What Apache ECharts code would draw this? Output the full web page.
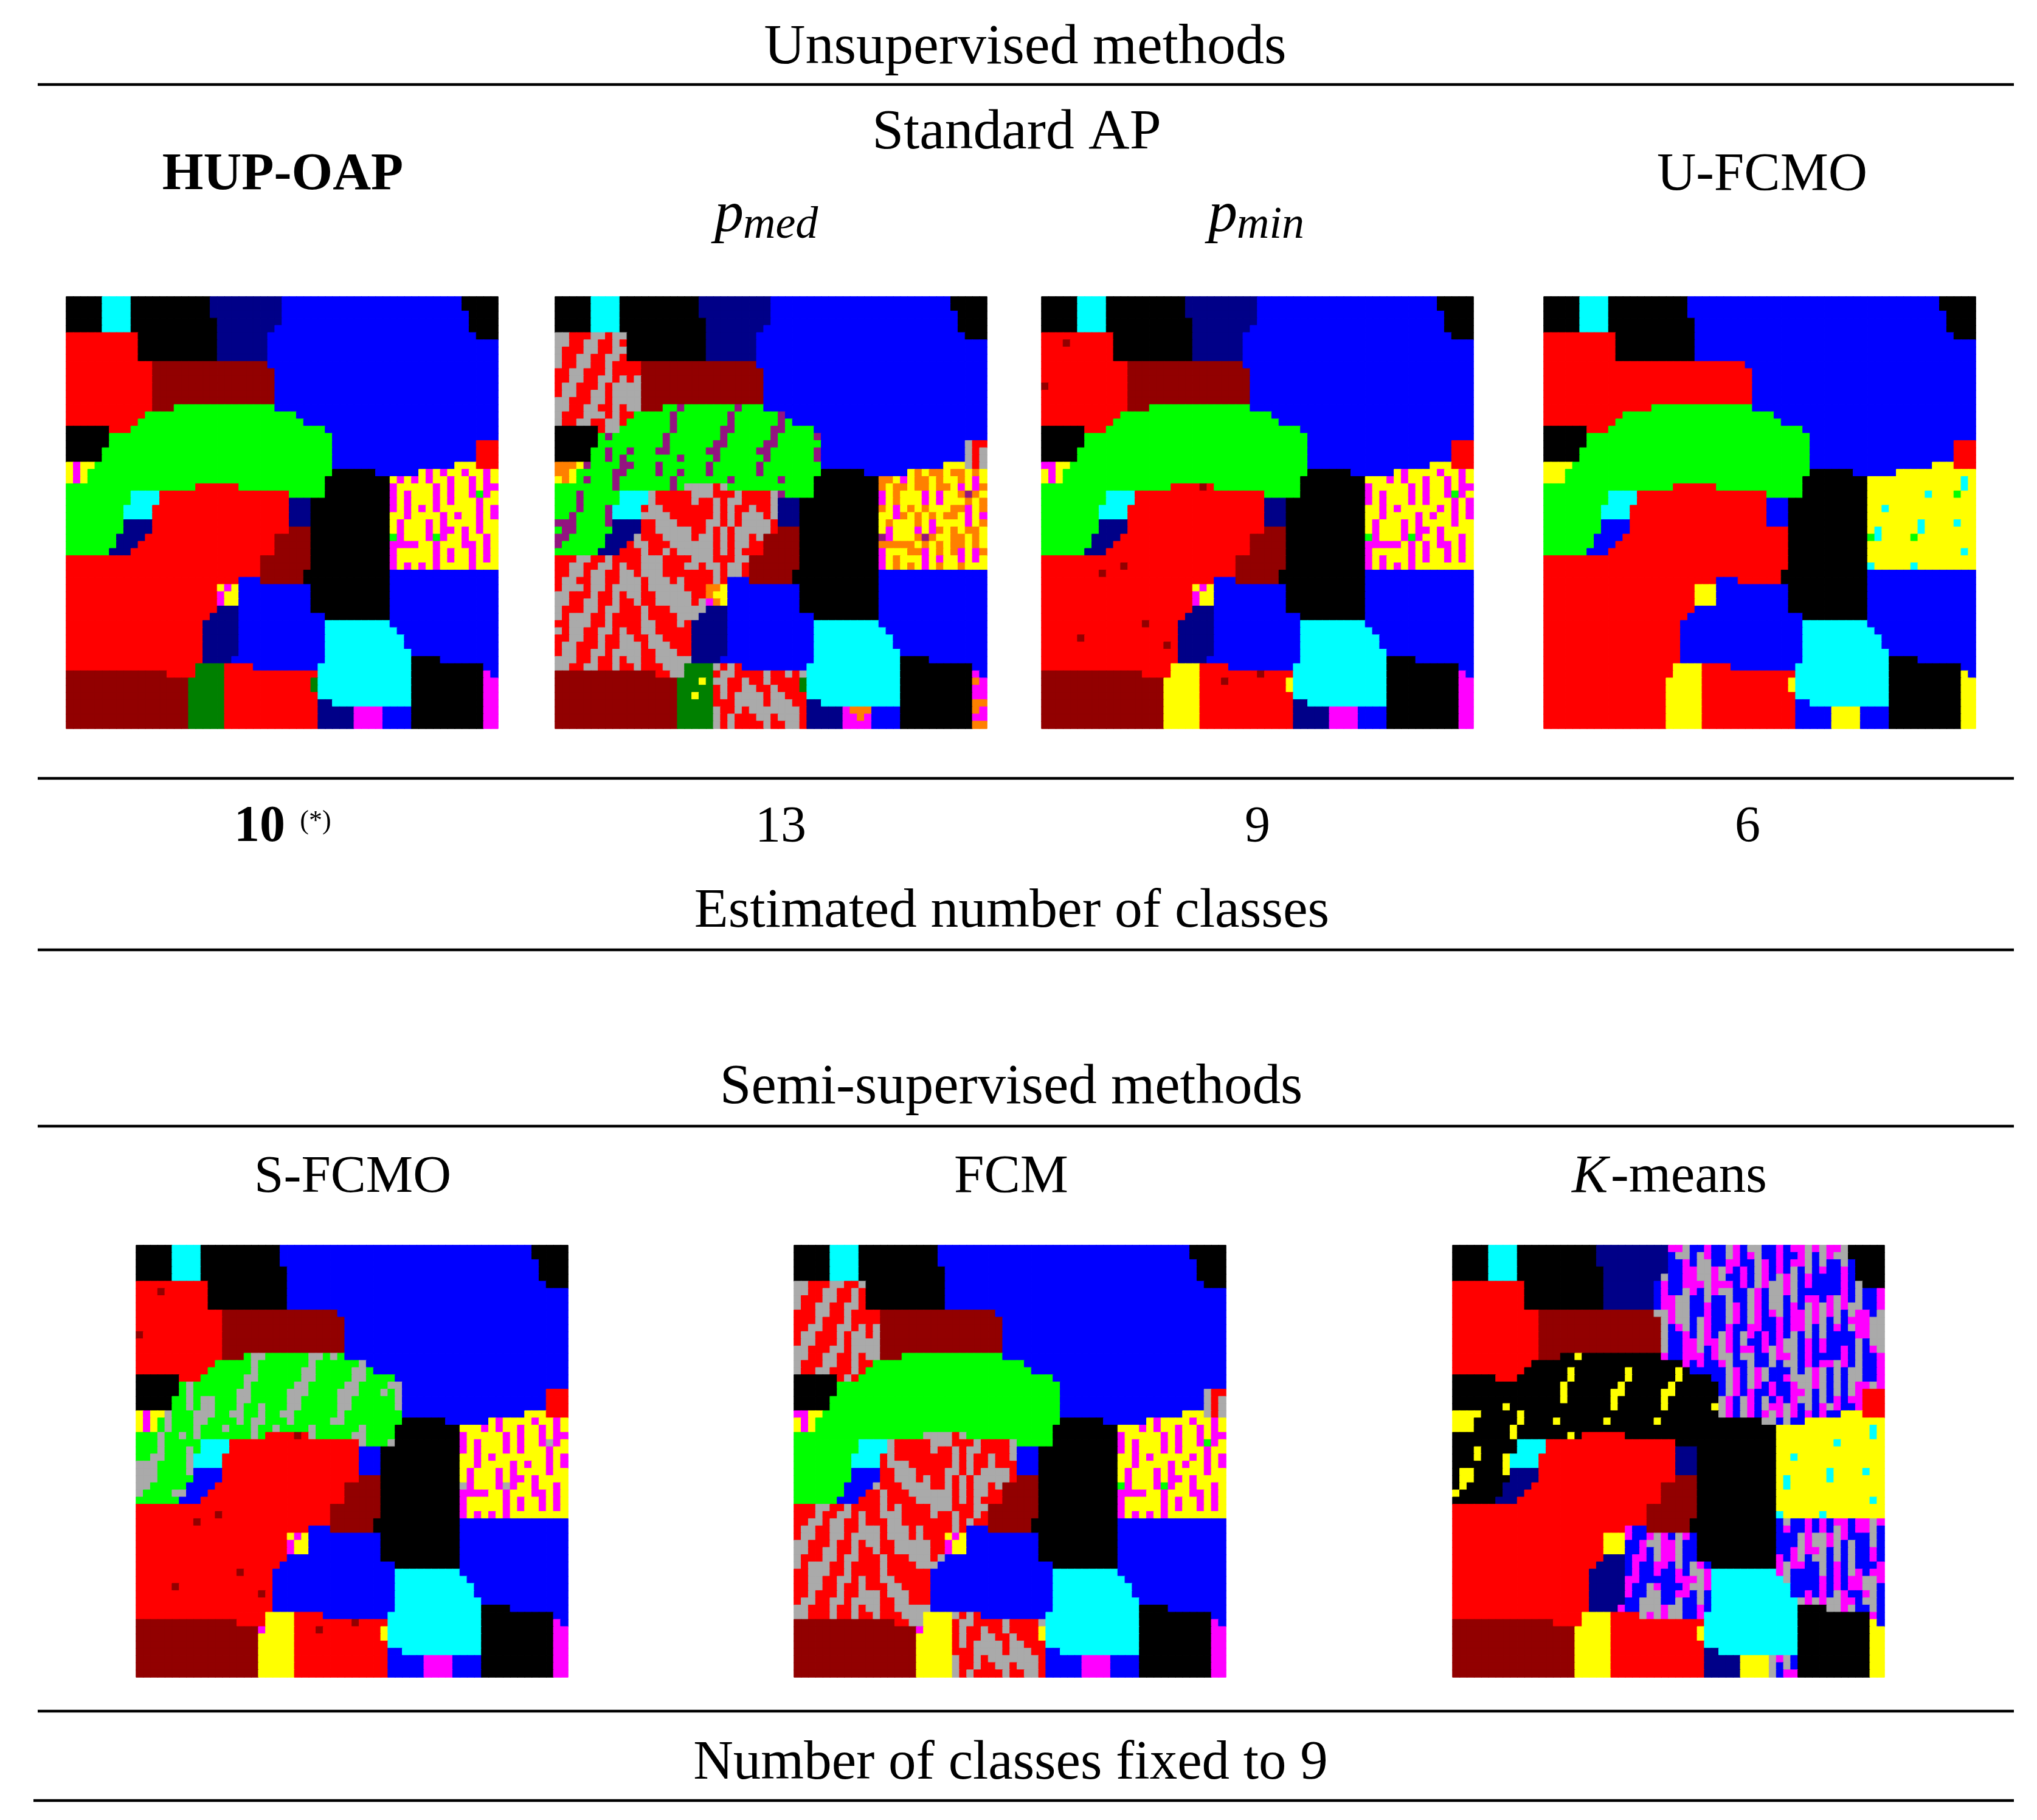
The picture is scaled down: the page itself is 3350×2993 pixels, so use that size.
<!DOCTYPE html>
<html>
<head>
	<meta charset="utf-8">
	<title>Clustering maps</title>
	<script src="https://cdn.jsdelivr.net/npm/echarts@6/dist/echarts.min.js"></script>
	<style>html,body{margin:0;padding:0;background:#fff;}</style>
</head>
<body>
<div id="main" style="width:3350px;height:2993px;"></div>
<script type="text/javascript">
	// every row is a list of runs: class letter + column where the run ends
	var class_letters = ['k','c','n','b','r','d','g','y','m','a','o','p','e'];
	var class_colors = ['#000000','#00ffff','#000088','#0000ff','#ff0000','#920000','#00ff00','#ffff00','#ff00ff','#aaaaaa','#ff8000','#931580','#008000'];

	var hup_oap_rows = [
		'k5c9k20n30b55k60','k5c9k20n30b55k60','k5c9k20n30b56k60','k5c9k21n30b56k60','k5c9k21n29b56k60',
		'r10k21n28b57k60','r10k21n28b60','r10k21n28b60','r10k21n28b60',
		'r12d28b60','r12d29b60','r12d29b60','r12d29b60','r12d29b60','r12d29b60',
		'r12d15g29b60','r11g32b60','r10g33b60','k6r9g36b60','k6g37b60','k6g37b57r60','k5g37b57r60','k5g37b57r60',
		'y1m2y4g37b54y57r60',
		'y1m2y3g37k43b49y50m51y52m53y55m56y58m59y60',
		'y1m2y3g36k45y46m47y48m49y50m51y53m54y56m57y58m59y60',
		'g18r24g36k45m46y51m52y53m54y56m57y58m60',
		'g9c13r31g36k45m46y47m48y51m52y53m54y56m57g58m59y60',
		'g9c13r31n34k45m46y47m48y51m52y53m54y57m58y60',
		'g8c12r31n34k45m46y47m48y49m50y51m52y57m58y59m60',
		'g8c12r31n34k45y47m48y52m53y54m55y57m58y59m60',
		'g8n12r31n34k45y46m47y50m51y52m53y57m58y60',
		'g8n12r31d34k45y46m47y50m51y52m54y55m56y57m58y60',
		'g7n11r29d34k45g46m47y50m51g52m53y55m56y58m59y60',
		'g7n10r29d34k45m49y51m52y55m57y58m59y60',
		'g6n9r29d34k45m46y51m52y53m54y56m57y58m59y60',
		'r27d34k45m46y51m52y53m54y56m57y58m59y60',
		'r27d34k45m46y47m48y49m50y51m52y56m57y60',
		'r27d33k45b60','r24b27d33k45b60','r21y22m23y24b34k45b60','r21m22y24b34k45b60','r21m22y24b34k45b60',
		'r21n24b34k45b60','r20n24b36k45b60','r19n24b36c45b60','r19n24b36c46b60','r19n24b36c47b60','r19n24b36c47b60','r19n24b36c48b60',
		'r19n23b36c48k52b60','r18e22r26b35c48k58b60','d14r18e22r35c48k58m59b60','d17e22r34e35c48k58m60','d17e22r34e35c48k58m60',
		'd17e22r35c48k58m60','d17e22r35n37c48k58m60','d17e22r35n40m44b48k58m60','d17e22r35n40m44b48k58m60','d17e22r35n40m44b48k58m60'
	];

	var ap_med_rows = [
		'k5c9k20n30b55k60','k5c9k20n30b55k60','k5c9k20n30b56k60','k5c9k21n30b56k60','k5c9k21n29b56k60',
		'a2r5a7r8a10k21n28b57k60',
		'a2r4a6r8a9r10k21n28b60',
		'a1r4a6r8a10k21n28b60',
		'a1r3a5r7a9r10k21n28b60',
		'a1r3a5r7a8r12d28b60',
		'r2a4r7a8r12d29b60',
		'r2a4r6a8r9a10r11a12d29b60',
		'r1a3r6a7r8a12d29b60',
		'r1a3r5a7r8a12d29b60',
		'a2r5a7r8a12d29b60',
		'a2r4a6r8a9r10a12d15g17p18g25p26g29b60',
		'a1r4a7r8a9r11g16p17g24p25g31p32b60',
		'a1r3a5r7a9r10g16p17g24p25g31p32g33b60',
		'k6r7a9g16p17g23p25g30p32g36b60',
		'k6g7p8g15p16g23p24g30p31g36p37b60',
		'k6g15p16g22p24g29p31g37b57a58r60',
		'k5g7p8g10p11g14p16g21p23g28p30g36p37b57a58r59a60',
		'k5g7p8g9p10g17p18g22p23g29p30g36p37b57a58r59a60',
		'o3y4p5g9p11g14p15g21p22g28p29g37b54y57a58r59a60',
		'o2y3g8p10g14p15g17p18g21p22g28p29g37k43b49y50o51y52o54y55o57y58o59y60',
		'y1o2y3g4p5g8p9g16p17g24p25g31p32g36k45o47y48m49y50o52y53o54y56o57y58m59y60',
		'g8p9g16p17g18a22r23a24g36k45o46y47o49y50o52y53o55y56m57y58m59o60',
		'g3p4g9c13a14r19a22r25a26r30a31p32g36k45m46y47o48y51m52y53m54y56o57p58o59y60',
		'g3p4g9c13a14r19a20r22a23r24a26r30a31n34k45m46y47o48y51m52y53m54y57o58y59o60',
		'g3p4g7p8c12r13a15r22a23r24a25r27a28r30a31n34k45o46y47m48y49o50y51o52y55o57m58y59o60',
		'g2p3g7p8c12a16r22a23r24a25r26a29r30a31n34k45y47m48o49y50o51y52o53y54o56y57m58y59m60',
		'p3g7p8n12r14a17r21a23r24a25r26a30r31n34k45y46o47y50o51y52m53y57m58y59o60',
		'g1p3g8n12r14a19r21a22r23a24r25a30r31d34k45y46m47y50m51y52m53o54y55o56y57o59y60',
		'p2g7n11a12r15a19r20a22r23a24r25a27r28a29d34k45p46m47y50o51p52o53y55o57y58o59y60',
		'p1g7n10r11a13r16a22r23a24r25a27r29d34k45o50y51o52y53o54y55o57y58o59y60',
		'g6n9r12a13r15a16r17a22r23a24r25a26r29d34k45m46y49o51m52y53o54y55o56m57y58m59o60',
		'r3a5r7a8r12a15r19a22r25a27d34k45m46y47o48y51m52y53m54y56m57y58m59y60',
		'r2a4r6a8r9a10r12a15r18a20r21a23r24a26r27d34k45m46y47o48y49o50y51m52y53o54y56o57y60',
		'r2a4r5a7r9a11r12a15r22a23r24a26r27d33k45b60',
		'r1a3r5a7r9a12r13a16r17a18r22a23r24b27d33k45b60',
		'r1a4r5a7r8a12r13a18r21o23y24b34k45b60',
		'a2r5a6r8a9r10a12r14a19r21o22y24b34k45b60',
		'a2r4a6r8a9r11a12r14a19r20a21m22o23y24b34k45b60',
		'a1r4a6r7a9r12a13r16a21n24b34k45b60',
		'a1r2a5r7a8r12a13r17a20n24b36k45b60',
		'r2a5r7a8r12a14r17a18r19n24b36c45b60',
		'a1r2a4r6a8r9a10r12a14r19n24b36c46b60',
		'r2a4r6a7r9a11r13a15r19n24b36c47b60',
		'r1a3r6a7r9a12r13a16r19n24b36c47b60',
		'r1a3r5a7r8a12r14a17r19n24b36c48b60',
		'a3r5a6r8a9r10a12r14a19n23b36c48k52b60',
		'a2r4a6r8a9r11a12r15a18e22a23r24a25r26b35c48k58b60',
		'd14r16a18e22r23a25r29a30r32a33r34a35c48k58m59b60',
		'd17e20y21e22a24r26a27r29a30r34e35c48k58o59m60',
		'd17e22r23a24r26a28r30a31r34e35c48k58m60',
		'd17e19y20e22r23a24r25a29r30a32r35c48k58m60',
		'd17e22r25a29r30a33r35n37c48k58o60',
		'd17e22a23r25a26r27a34r35n40m41o44b48k58o59m60',
		'd17e22a23r24a25r28a30r31a34r35n40m42o43m44b48k58m60',
		'd17e22a23r24a25r29a30r32a34r35n40m44b48k58o60'
	];

	var ap_min_rows = [
		'k5c9k20n30b55k60','k5c9k20n30b55k60','k5c9k20n30b56k60','k5c9k21n30b56k60','k5c9k21n29b56k60',
		'r10k21n28b57k60','r3d4r10k21n28b60','r10k21n28b60','r10k21n28b60',
		'r12d28b60','r12d29b60','r12d29b60','d1r12d29b60','r12d29b60','r12d29b60',
		'r12d15g29b60','r11g32b60','r10g33b60','k6r9g36b60','k6g37b60','k6g37b57r60','k5g37b57r60','k5g37b57r60',
		'm2y4g37b54y57r60',
		'y1m2y3g37k43b49y50m51y55m56y58m59y60',
		'y1m2y3g36k45y48m49y50m51y53m54y56m57y58m59y60',
		'g18r22d23r24g36k45m46y51m52y53m54y56m57y58m60',
		'g9c13r31g36k45m46y47m48y51m52y53m54y56m57g58m59y60',
		'g9c13r31n34k45m46y47m48y51m52y53m54y57m58y59m60',
		'g8c12r31n34k45y47m48y49m50y55m56y57m58y59m60',
		'g8c12r31n34k45y47m48y52m53y54m55y57m58y59m60',
		'g8n12r31n34k45y46m47y50m51y52m53y57m58y60',
		'g8n12r31d34k45y46m47y50m51y52m54y55m56y60',
		'g7n11r29d34k45g46m47y50m51g52m53y55m56y58m59y60',
		'g7n10r29d34k45m50y51m52y53m54y55m57y58m59y60',
		'g6n9r29d34k45m46y51m52y53m54y56m57y58m59y60',
		'r27d34k45m46y47m48y51m52y53m54y56m57y58m59y60',
		'r11d12r27d34k45m46y47m48y49m50y51m52y60',
		'r8d9r27d33k45b60','r24b27d33k45b60','r21y22m23y24b34k45b60','r21m22y24b34k45b60','r21m22y24b34k45b60',
		'r21n24b34k45b60','r20n24b36k45b60','r14d15r19n24b36c45b60','r19n24b36c46b60','r5d6r19n24b36c47b60','r17d18r19n24b36c47b60','r19n24b36c48b60',
		'r19n23b36c48k52b60','r18y22r26b35c48k58b60','d14r18y22r30d31r35c48k58m59b60','d17y22r25d26r34y35c48k58m60','d17y22r34y35c48k58m60',
		'd17y22r35c48k58m60','d17y22r35n37c48k58m60','d17y22r35n40m44b48k58m60','d17y22r35n40m44b48k58m60','d17y22r35n40m44b48k58m60'
	];

	var u_fcmo_rows = [
		'k5c9k20b55k60','k5c9k20b55k60','k5c9k20b56k60','k5c9k21b56k60','k5c9k21b56k60',
		'r10k21b57k60','r10k21b60','r10k21b60','r10k21b60',
		'r28b60','r29b60','r29b60','r29b60','r29b60','r29b60',
		'r15g29b60','r11g32b60','r10g33b60','k6r9g36b60','k6g37b60','k6g37b57r60','k5g37b57r60','k5g37b57r60',
		'y4g37b54y57r60',
		'y3g37k43b49y60',
		'y3g36k45y58c59y60',
		'g18r24g36k45y58c59y60',
		'g9c13r31g36k45y53c54y57g58y60',
		'g9c13r31b34k45y60',
		'g8c12r31b34k45y47c48y60',
		'g8c12r31b34k45y60',
		'g8b12r31b34k45y52c53y57c58y60',
		'g8b12r34k45y46c47y52c53y60',
		'g7b11r34k45g46c47y51g52y60',
		'g7b10r34k45y60',
		'g6b9r34k45y58c59y60',
		'r34k45y60',
		'r34k45c46y51c52y60',
		'r33k45b60','r24b27r33k45b60','r21y24b34k45b60','r21y24b34k45b60','r21y24b34k45b60',
		'r21b34k45b60','r20b36k45b60','r19b36c45b60','r19b36c46b60','r19b36c47b60','r19b36c47b60','r19b36c48b60',
		'r19b36c48k52b60','r18y22r26b35c48k58b60','r18y22r35c48k58y59b60','r17y22r34y35c48k58y60','r17y22r34y35c48k58y60',
		'r17y22r35c48k58y60','r17y22r35b37c48k58y60','r17y22r35b40y44b48k58y60','r17y22r35b40y44b48k58y60','r17y22r35b40y44b48k58y60'
	];

	var s_fcmo_rows = [
		'k5c9k20b55k60','k5c9k20b55k60','k5c9k20b56k60','k5c9k21b56k60','k5c9k21b56k60',
		'r10k21b57k60','r3d4r10k21b60','r10k21b60','r10k21b60',
		'r12d28b60','r12d29b60','r12d29b60','d1r12d29b60','r12d29b60','r12d29b60',
		'r12d15g16a18g24a26g27a28g29b60',
		'r11g16a17g24a25g31a32b60',
		'r10g16a17g23a25g30a32g33b60',
		'k6r9g15a17g23a25g30a32g36b60',
		'k6g7a8g15a16g22a24g29a31g35a37b60',
		'k6g7a8g14a16g21a24g28a31g34a35g36a37b57r60',
		'k5g7a8g9a11g14a16g21a23g28a30g36a37b57r60',
		'k5g7a8g9a11g14a15g17a18g21a23g28a30g36a37b57r60',
		'y1m2y4a5g8a11g13a15g17a18g20a22g28a29g37b54y57r60',
		'y1m2y3g4a5g8a10g14a15g16a18g21a22g27a29g37k43b49y50m51y55m56y58m59y60',
		'y1m2y3g4a5g8a9g12a13g16a17g19a20g24a25g31a32g36k45y48m49y50m51y53m54y56m57y58m59y60',
		'g3a4g6a7g8a9g16a17g18r22d23r24a25g30a32g36k45m46y51m52y53m54y56m57y58m60',
		'g3a4g9c13r31a32g35a36k45m46y47m48y51m52y53m54y56m57a58m59y60',
		'g3a4g7a8g9c13r31b34k45m46y47m48y51m52y53m54y57m58y60',
		'g2a4g7a8c12r31b34k45y47m48y49m50y57m58y59m60',
		'a3g7a8c12r31b34k45y47m48y52m53y54m55y57m58y59m60',
		'a3g7a8b12r31b34k45y46m47y50m51y52m53y57m58y60',
		'a3g8b12r31d34k45y46m47y50m51y52m54y55m56y60',
		'a2g7b11r29d34k45a46m47y50m51a52m53y55m56y58m59y60',
		'a1g5a7b10r29d34k45m49y51m52y55m57y58m59y60',
		'g6b9r29d34k45m46y51m52y53m54y56m57y58m59y60',
		'r27d34k45m46y51m52y53m54y56m57y58m59y60',
		'r11d12r27d34k45m46y47m48y49m50y51m52y60',
		'r8d9r27d33k45b60','r24b27d33k45b60','r21y22m23y24b34k45b60','r21m22y24b34k45b60','r21m22y24b34k45b60',
		'r21b34k45b60','r20b36k45b60','r14d15r19b36c45b60','r19b36c46b60','r5d6r19b36c47b60','r17d18r19b36c47b60','r19b36c48b60',
		'r19b36c48k52b60','r18y22r26b35c48k58b60','d14r18y22r30d31r35c48k58m59b60','d17m18y22r25d26r34y35c48k58m60','d17y22r34y35c48k58m60',
		'd17y22r35c48k58m60','d17y22r35b37c48k58m60','d17y22r35b40m44b48k58m60','d17y22r35b40m44b48k58m60','d17y22r35b40m44b48k58m60'
	];

	var fcm_rows = [
		'k5c9k20b55k60','k5c9k20b55k60','k5c9k20b56k60','k5c9k21b56k60','k5c9k21b56k60',
		'a2r5a7r9a10k21b57k60',
		'a2r4a6r8a9r10k21b60',
		'a1r4a6r8a9r10k21b60',
		'a1r3a5r7a9r10k21b60',
		'r3a5r7a8r12d28b60',
		'r3a4r7a8r12d29b60',
		'r2a4r6a8r9a10r11a12d29b60',
		'r1a3r6a7r8a10r11a12d29b60',
		'r1a3r6a7r8a12d29b60',
		'a2r5a7r8a12d29b60',
		'a2r4a6r8a9r10a12d15g29b60',
		'a1r4a6r8a9r11g32b60',
		'a1r3a5r8a9r10g33b60',
		'k6r7a8r9g36b60',
		'k6g37b60',
		'k6g37b57a58r60',
		'k5g37b57a58r59a60',
		'k5g37b57a58r59a60',
		'm2y4g37b54y57a58r59a60',
		'y1m2y3g37k43b49y50m51y55m56y58m59y60',
		'y1m2y3g36k45y48m49y50m51y53m54y56m57y58m59y60',
		'g18a22r23a24g36k45m46y51m52y53m54y56m57y58m60',
		'g9c13a14r19a22r25a26r30a31g36k45m46y47m48y51m52y53m54y56m57g58m59y60',
		'g9c13a14r19a20r22a23r24a26r30a31b34k45m46y47m48y51m52y53m54y57m58y60',
		'g8c12r13a14r22a23r24a25r27a28r30a31b34k45y47m48y49m50y55m56y57m58y59m60',
		'g8c12r13a16r22a23r24a25r27a28r31b34k45y47m48y52m53y54m55y57m58y59m60',
		'g8b12r14a17r21a23r24a25r26a30r31b34k45y46m47y50m51y52m53y57m58y60',
		'g8b12r14a17r18a19r21a22r23a24r25a30r31d34k45y46m47y50m51y52m54y55m56y60',
		'g7b11a12r15a19r21a22r23a24r25a27r28a29d34k45g46m47y50m51g52m53y55m56y58m59y60',
		'g7b10r12a13r16a22r23a24r25a27r29d34k45m49y51m52y55m57y58m59y60',
		'g6b9r12a13r17a22r23a24r25a26r29d34k45m46y51m52y53m54y56m57y58m59y60',
		'r3a5r7a8r12a13r14a15r19a22r25a27d34k45m46y51m52y53m54y56m57y58m59y60',
		'r3a4r6a8r9a10r12a15r19a20r22a23r25a26r27d34k45m46y47m48y49m50y51m52y60',
		'r2a4r5a7r9a10r13a15r22a23r24a25r27d33k45b60',
		'r1a3r5a7r9a12r13a16r17a18r22a23r24b27d33k45b60',
		'r1a3r5a7r8a12r13a16r17a18r21y22m23y24b34k45b60',
		'a2r5a6r8a9r10a12r14a19r21m22y24b34k45b60',
		'a2r4a6r8a9r11a12r14a19r21m22y24b34k45b60',
		'a1r4a6r7a9r12a13r16a19r20a21b34k45b60',
		'a1r2a5r7a8r12a13r17a20b36k45b60',
		'r2a5r7a8r12a13r19b36c45b60',
		'r2a4r6a8r9a10r12a14r19b36c46b60',
		'r2a4r6a7r9a10r13a15r19b36c47b60',
		'r2a3r6a7r9a12r13a16r19b36c47b60',
		'r1a3r5a7r8a12r14a16r19b36c48b60',
		'a2r5a6r8a9r10a12r14a19b36c48k52b60',
		'a2r5a6r8a9r11a12r15a18y22a23r24a25r26b35c48k58b60',
		'd14r16a18y22r23a25r29a30r34a35c48k58m59b60',
		'd17m18y22r23a24r26a27r29a30r34y35c48k58m60',
		'd17y22r23a24r26a28r30a31r34y35c48k58m60',
		'd17y22r23a24r25a29r30a32r35c48k58m60',
		'd17y22r25a29r30a33r35b37c48k58m60',
		'd17y22a23r25a26r27a34r35b40m44b48k58m60',
		'd17y22a23r25a26r28a30r31a34r35b40m44b48k58m60',
		'd17y22a23r24a25r29a30r32a34r35b40m44b48k58m60'
	];

	var k_means_rows = [
		'k5c9k20n30m32a33b35m36b38a39m40b41a43b45m46b47m49a50m51a52m54a55k60',
		'k5c9k20n30b31a33b34a35m36b38a39m40b41m42a43b45m46b48m49a50b51a52m53a55k60',
		'k5c9k20n30b32m33b34a36b38m40b42a43m44b45m46b47m49a50b51a52b54a55b56k60',
		'k5c9k21n30b32m34a36m37a38m39b40m41b42a43m44b45m46b47a48b49a50b51m52b54m55b56k60',
		'k5c9k21n29a30b32m34a36m37a38b40m41b42a43m44b45a46m47a48b49m50b54m55b56k60',
		'r10k21n28b29m30b32m35a36m39b40m41b42a43m44a46m47a48b49m50b54m55b56a57k60',
		'r10k21n28b29m30b32a33m34b35a36m37a39b41a42m43b44a46m47a48b54m55b56a57b59m60',
		'r10k21n28b29m31a33b35a36b38a39b41a42m43b44a46b47a48b49m51b52m53a54m55b56a57b59m60',
		'r10k21n28b29m31a33b35m36b38a39m40b41a42m43b44a46b47m48b49a50m51a52m53a54m55a57b59m60',
		'r12d28a30m31a33b35m36b38a39m40b41a42m43b44m45a46b47m49a50m51a52m53a54b55a56m58b59a60',
		'r12d29a30m31a33b34a35m36b38a39m40b41a42m43b45m46b47m49a50m51a52b53a54b55m58a60',
		'r12d29a30b31m32a33b34a35m36b38m39b41m43b45m46b47m49a50b51a52b53m54b55a56m58a60',
		'r12d29a30b32m33b34a35m36b37a38m39b40a41m42b43m44b45m46b47a48b49a50b51a52b56m58a60',
		'r12d29a30b32m34a35m37a38m39b40a41b43m44b45m46a48b49m50b51m52b56a57b58a60',
		'r12d29a30b32m34a35b36m37a38m39b40m42b43m44a45m46a48b49m50b51m52b54m55b56a57b58m59a60',
		'r12d15k17y18k29m30b32m35b36m37a39b40a42b44a45m47a48b49m50b54m55b56a57b59m60',
		'r11k32m33b34m35b37m38a39b41a42b44a45b46a48b49m50b51m53a54m55b56a57b59m60',
		'r10k16y17k24y25k31y32k33b38a39m40b41a42m43a44b47a48b49a50m51a52b53a54b55a57b59m60',
		'k6r9k16y17k24y25k31y32k36b38a39m40b41a42m43a44b46m47a50m51a52b53a54b55a57b59m60',
		'k15y16k23y24k30y31k37b38a39m40b41a42m43b44m45b47m48a50m51a52b53a54b55a56m58a59m60',
		'k15y16k22y24k29y31k37b38a39m40b41m42b44m45b47m49a50b51a52b53a54b55a56m57r60',
		'k15y16k22y23k29y30k37a38m39b40a41m42b43a44b45m46b47m48a50b51a52b53m54b55m57r60',
		'k7y8k22y23k29y30k36y37a38m39b40a41m42b43a44m46a47m48b49a50b51m52a53m54b56m57r60',
		'y4k9y10k37a38m39b40a41m42b43m44a45m46a47m48b49m50b51m52b54y57r60',
		'y3k9y10k14y15k21y22k28y29k43a45b46a47b49y60',
		'y3k8y9k45y58c59y60',
		'k8y9k16y17k18r24k45y58c59y60',
		'k9c13r31k45y53c54y60',
		'k3y4k9c13r31n34k45y60',
		'k3y4k7y8c12r31n34k45y47c48y60',
		'k7y8c12r31n34k45y60',
		'k1y3k7y8n12r31n34k45y52c53y57c58y60',
		'k1y3k8n12r31d34k45y46c47y52c53y60',
		'k1y2k7n11r29d34k45y46c47y60',
		'y1k7n10r29d34k45y60',
		'k6n9r29d34k45y58c59y60',
		'r27d34k45y60',
		'r27d34k45c46y51c52y60',
		'r27d33k45b46a47b49m50b51m52b53m55b56m58a59m60',
		'r24m25b27d33k45b46m47b49m50b51m52b53a54m55b56m58a59b60',
		'r21y24m25b27m28a29m30b31a32m33b34k45b48a49m50a52m53a54m55b58a59b60',
		'r21y24b26m27a29m31a32b34k45b48a49m50a52m53a54b55a56b58a59b60',
		'r21y24b26m27b28a29m31a32b34k45b47m48a49m51a52b53a54b55a56b58m59b60',
		'r21n24b25m27b28a29m31a32b34k45m46b47m48a49b50a52b53a54b55a56b58m59b60',
		'r20n24b25m26b28m30b31a32b33a34m35b36k45m46a47m49b51a52b53m54b55a56b59m60',
		'r19n24b25m26b28m29b31m32b33a35m36c45m46a47b51a52b53m54b55a56m57b58m60',
		'r19n24m26b31m34a35m36c46a47b51m52b53m54b55m57a59m60',
		'r19n24m25b27a28m29b32m33a35m36c47b51m52b53m54b55m57a59b60',
		'r19n24m25b27a29b31m33b34a35b36c47b49m50b51m52b53a54m55b57m58a59b60',
		'r19n24b26a29b31a32b34a35b36c48a49m50a51m52a54m56b57a59b60',
		'r19n23m24b26a29m30a32b34m35b36c48k52a54m55a56b58a59b60',
		'r18y22r26a27m28a29m30a32b34m35c48k58m59b60',
		'd14r18y22r35c48k58y59b60',
		'd17y22r34y35c48k58y60',
		'd17y22r34y35c48k58y60',
		'd17y22r35c48k58y60',
		'd17y22r35n37c48k58y60',
		'd17y22r35n40y44a45m46a47b48k58y60',
		'd17y22r35n40y44a45b46a47b48k58y60',
		'd17y22r35n40y44a45b46m48k58y60'
	];

	var panels = [
		{rows: hup_oap_rows, left: 109, top: 488},
		{rows: ap_med_rows, left: 913, top: 488},
		{rows: ap_min_rows, left: 1713, top: 488},
		{rows: u_fcmo_rows, left: 2539, top: 488},
		{rows: s_fcmo_rows, left: 224, top: 2048},
		{rows: fcm_rows, left: 1306, top: 2048},
		{rows: k_means_rows, left: 2389, top: 2048}
	];
	var panel_size = 710;

	// text, x, baseline, align, size, style
	var serif = '"Liberation Serif"';
	var labels = [
		['Unsupervised methods', 1686, 100, 'center', 94, 'normal'],
		['Standard AP', 1672, 240, 'center', 93.5, 'normal'],
		['HUP-OAP', 465, 308, 'center', 87, 'bold'],
		['U-FCMO', 2898, 308, 'center', 89, 'normal'],
		['p', 1175, 376, 'left', 96, 'italic'],
		['med', 1222, 388, 'left', 74, 'italic'],
		['p', 1987, 376, 'left', 96, 'italic'],
		['min', 2034, 388, 'left', 74, 'italic'],
		['10', 427, 1380, 'center', 84, 'bold'],
		['(*)', 519, 1361, 'center', 44, 'normal'],
		['13', 1284, 1380, 'center', 84, 'normal'],
		['9', 2068, 1380, 'center', 84, 'normal'],
		['6', 2874, 1380, 'center', 84, 'normal'],
		['Estimated number of classes', 1664, 1520, 'center', 91.5, 'normal'],
		['Semi-supervised methods', 1663, 1810, 'center', 93, 'normal'],
		['S-FCMO', 580, 1956, 'center', 87, 'normal'],
		['FCM', 1663, 1956, 'center', 89, 'normal'],
		['K', 2585, 1956, 'left', 89, 'italic'],
		['-means', 2649, 1956, 'left', 89, 'normal'],
		['Number of classes fixed to 9', 1662, 2921, 'center', 91, 'normal']
	];

	// x1, x2, y
	var rules = [
		[62, 3312, 139], [62, 3312, 1280], [62, 3312, 1562], [62, 3312, 1852], [62, 3312, 2814], [55, 3312, 2961]
	];

	var columns = [];
	for(var i = 0; i < 60; i++){
		columns.push(i);
	}

	//cells get a border of their own colour, otherwise seams show between them
	function rowsToCells(rows){
		var cells = [];
		rows.forEach(function(row, r){
			var col = 0;
			row.replace(/([a-z])(\d+)/g, function(all, letter, end){
				var cls = class_letters.indexOf(letter);
				for(; col < Number(end); col++){
					cells.push({
						value: [col, r, cls],
						itemStyle: {borderColor: class_colors[cls], borderWidth: 1}
					});
				}
			});
		});
		return cells;
	}

	var grids = [], xAxes = [], yAxes = [], series = [];
	panels.forEach(function(panel, idx){
		grids.push({left: panel.left, top: panel.top, width: panel_size, height: panel_size});
		xAxes.push({type: 'category', gridIndex: idx, data: columns, show: false});
		yAxes.push({type: 'category', gridIndex: idx, data: columns, inverse: true, show: false});
		series.push({
			type: 'heatmap',
			xAxisIndex: idx,
			yAxisIndex: idx,
			data: rowsToCells(panel.rows),
			progressive: 0,
			silent: true
		});
	});

	var graphic = [];
	rules.forEach(function(rule){
		graphic.push({
			type: 'line',
			shape: {x1: rule[0], y1: rule[2], x2: rule[1], y2: rule[2]},
			style: {stroke: '#000', lineWidth: 4.5}
		});
	});
	labels.forEach(function(label){
		var style = label[5];
		var font = (style == 'normal' ? '' : style + ' ') + label[4] + 'px ' + serif;
		graphic.push({
			type: 'text',
			style: {
				text: label[0],
				x: label[1],
				y: label[2] - label[4] * 0.22,
				font: font,
				fill: '#000',
				textAlign: label[3],
				textVerticalAlign: 'middle'
			}
		});
	});

	var myChart = echarts.init(document.getElementById('main'), null, {renderer: 'canvas'});
	myChart.setOption({
		animation: false,
		backgroundColor: '#fff',
		grid: grids,
		xAxis: xAxes,
		yAxis: yAxes,
		visualMap: {
			show: false,
			type: 'piecewise',
			dimension: 2,
			seriesIndex: series.map(function(s, i){ return i; }),
			pieces: class_colors.map(function(color, i){
				return {value: i, color: color};
			})
		},
		graphic: graphic,
		series: series
	});
</script>
</body>
</html>
